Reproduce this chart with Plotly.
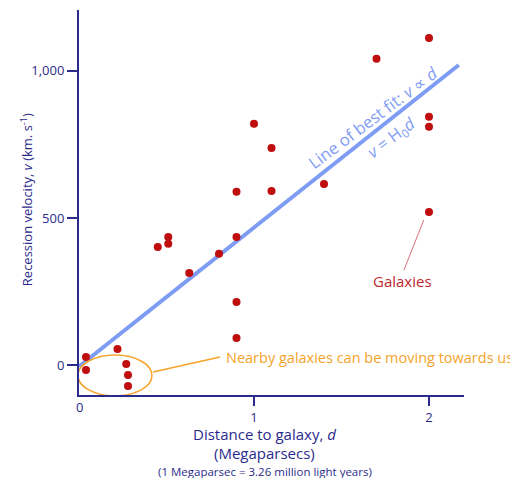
import plotly.graph_objects as go

# galaxies: distance (Mpc) and recession velocity (km/s)
dist = [0.04, 0.04, 0.22, 0.27, 0.28, 0.28, 0.45, 0.51, 0.51, 0.63, 0.80,
        0.90, 0.90, 0.90, 0.90, 1.00, 1.10, 1.10, 1.40, 1.70, 2.00, 2.00, 2.00, 2.00]
vel = [27, -17, 54, 3, -34, -71, 401, 435, 412, 313, 378,
       214, 92, 589, 435, 820, 738, 592, 615, 1041, 1112, 844, 810, 520]

# best fit line ends
fit_d = [0.0, 2.17]
fit_v = [-5, 1020]

y_ticks = [0, 500, 1000]
y_labels = ["0", "500", "1,000"]
x_ticks = [1, 2]

navy = "#2b2b8c"
font = "Open Sans"
orange = "#f5a32a"
blue = "#7f9cf5"

fig = go.Figure()

fig.add_trace(go.Scatter(x=fit_d, y=fit_v, mode="lines",
                         line=dict(color=blue, width=4), hoverinfo="skip"))

fig.add_trace(go.Scatter(x=dist, y=vel, mode="markers", cliponaxis=False,
                         marker=dict(color="#c00d0d", size=8)))

# ellipse round the nearby galaxies
fig.add_shape(type="circle", xref="x", yref="y", x0=-0.006, x1=0.417, y0=-105, y1=34,
              line=dict(color=orange, width=1.5))
fig.add_shape(type="line", xref="x", yref="y", x0=0.423, y0=-24, x1=0.806, y1=27,
              line=dict(color=orange, width=1.5))
# pointer to the galaxies label
fig.add_shape(type="line", xref="x", yref="y", x0=1.97, y0=493, x1=1.857, y1=323,
              line=dict(color="#d9707a", width=1))

fig.add_annotation(x=0.83, y=27, xanchor="left", yanchor="middle", showarrow=False,
                   text="Nearby galaxies can be moving towards us",
                   font=dict(family=font, size=14.5, color=orange))
fig.add_annotation(x=1.85, y=286, showarrow=False, text="Galaxies",
                   font=dict(family=font, size=15, color="#c0272d"))
fig.add_annotation(x=1.68, y=840, showarrow=False, textangle=-37,
                   text="Line of best fit: <i>v</i> ∝ <i>d</i>",
                   font=dict(family=font, size=16.5, color=blue))
fig.add_annotation(x=1.78, y=772, showarrow=False, textangle=-37,
                   text="<i>v</i> = H<sub>0</sub><i>d</i>",
                   font=dict(family=font, size=16.5, color=blue))

# x axis "0" sits a little higher than the other tick labels
fig.add_annotation(xref="paper", yref="paper", x=0, y=0, yshift=-12, showarrow=False,
                   xanchor="center", yanchor="middle", text="0",
                   font=dict(family=font, size=13, color=navy))

# axis titles
fig.add_annotation(xref="paper", yref="paper", x=0, y=0.506, xshift=-53, textangle=-90,
                   xanchor="center", yanchor="middle", showarrow=False,
                   text="Recession velocity, <i>v</i> (km. s<sup>-1</sup>)",
                   font=dict(family=font, size=13, color=navy))
fig.add_annotation(xref="paper", yref="paper", x=0.483, y=0, yshift=-39, showarrow=False,
                   xanchor="center", yanchor="middle",
                   text="Distance to galaxy, <i>d</i>",
                   font=dict(family=font, size=15, color=navy))
fig.add_annotation(xref="paper", yref="paper", x=0.483, y=0, yshift=-58, showarrow=False,
                   xanchor="center", yanchor="middle",
                   text="(Megaparsecs)",
                   font=dict(family=font, size=15, color=navy))
fig.add_annotation(xref="paper", yref="paper", x=0.483, y=0, yshift=-76, showarrow=False,
                   xanchor="center", yanchor="middle",
                   text="(1 Megaparsec = 3.26 million light years)",
                   font=dict(family=font, size=11.5, color=navy))

# the page body has an 8px margin, so size and margins allow for it
fig.update_layout(
    width=510, height=470,
    margin=dict(l=71, r=54, t=2, b=83),
    plot_bgcolor="white", paper_bgcolor="white",
    showlegend=False,
    xaxis=dict(range=[0, 2.2], tickvals=x_ticks, showgrid=False, zeroline=False,
               showline=True, linecolor=navy, linewidth=2,
               ticks="outside", ticklen=9, tickwidth=2, tickcolor=navy,
               tickfont=dict(family=font, size=13, color=navy)),
    yaxis=dict(range=[-102, 1207], tickvals=y_ticks, ticktext=y_labels,
               showgrid=False, zeroline=False,
               showline=True, linecolor=navy, linewidth=2,
               ticks="outside", ticklen=10, tickwidth=2, tickcolor=navy,
               tickfont=dict(family=font, size=13, color=navy)),
)

fig.write_html("out.html")
